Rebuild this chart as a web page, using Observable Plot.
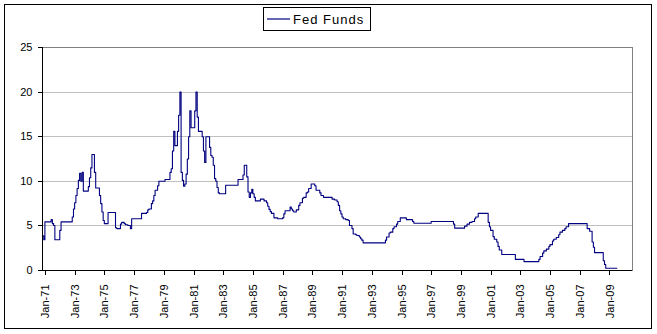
<!DOCTYPE html>
<html><head><meta charset="utf-8">
<script src="https://cdn.jsdelivr.net/npm/d3@7"></script>
<script src="https://cdn.jsdelivr.net/npm/@observablehq/plot@0.6"></script>
<style>
html,body{margin:0;padding:0;background:#fff;}
#chart{position:relative;width:657px;height:334px;}
</style>
</head><body><div id="chart"></div>
<script>
// Change points of the monthly Fed Funds series (value holds until the next entry)
const months = [
"1971-01","1971-02","1971-03","1971-08","1971-09","1971-10","1971-11","1972-03","1972-04",
"1973-01","1973-02","1973-03","1973-04","1973-05","1973-06","1973-07","1973-08","1973-09","1973-10",
"1974-02","1974-03","1974-04","1974-05","1974-07","1974-08","1974-11","1974-12",
"1975-01","1975-02","1975-03","1975-06","1975-12",
"1976-01","1976-04","1976-05","1976-07","1976-08","1976-10","1976-12",
"1977-01","1977-09",
"1978-01","1978-02","1978-03","1978-05","1978-06","1978-07","1978-08","1978-10","1978-11",
"1979-04","1979-08","1979-09","1979-10","1979-11","1979-12",
"1980-02","1980-03","1980-04","1980-05","1980-06","1980-07","1980-08","1980-09","1980-10","1980-11","1980-12",
"1981-01","1981-04","1981-05","1981-06","1981-07","1981-10","1981-11","1981-12",
"1982-01","1982-04","1982-05","1982-06","1982-07","1982-08","1982-09","1982-10","1982-11","1982-12",
"1983-05",
"1984-03","1984-07","1984-08","1984-10","1984-11","1984-12",
"1985-01","1985-02","1985-03","1985-04","1985-05","1985-09","1985-12",
"1986-02","1986-03","1986-04","1986-05","1986-06","1986-08","1986-11",
"1987-03","1987-04","1987-05","1987-09","1987-10","1987-11","1987-12",
"1988-02","1988-04","1988-05","1988-07","1988-08","1988-10","1988-11","1988-12",
"1989-02","1989-05","1989-06","1989-09","1989-10","1989-12",
"1990-07","1990-09","1990-11","1990-12",
"1991-01","1991-02","1991-03","1991-04","1991-06","1991-08","1991-09","1991-11","1991-12",
"1992-02","1992-03","1992-05","1992-06","1992-07","1992-08",
"1994-02","1994-03","1994-05","1994-06","1994-08","1994-09","1994-11","1994-12",
"1995-02","1995-07","1995-12",
"1996-01",
"1997-03",
"1998-09","1998-10",
"1999-06","1999-08","1999-10","1999-12",
"2000-02","2000-03","2000-05",
"2001-01","2001-02","2001-03","2001-05","2001-06","2001-08","2001-09","2001-10","2001-12",
"2002-11",
"2003-06",
"2004-06","2004-07","2004-09","2004-10","2004-12",
"2005-02","2005-03","2005-05","2005-06","2005-08","2005-10","2005-11",
"2006-01","2006-03","2006-04","2006-06",
"2007-09","2007-11",
"2008-01","2008-02","2008-03","2008-10","2008-11","2008-12",
"2009-09"
];
const rates = [
3.9,3.45,5.45,5.7,5.25,5.05,3.45,4.5,5.45,
6.0,6.9,7.6,8.4,9.2,10.1,10.9,10.0,11.0,8.9,
9.4,10.4,11.5,13.0,11.0,9.25,8.4,7.5,
6.55,5.6,5.25,6.5,4.8,
4.7,5.2,5.4,5.25,5.13,5.05,4.7,
5.8,6.4,
6.5,6.8,6.9,7.5,7.8,8.4,9.0,9.5,10.0,
10.2,11.0,11.4,13.4,15.6,14.0,
15.6,17.4,20.0,11.0,10.1,9.45,9.7,10.8,12.5,15.0,17.9,
16.0,17.9,20.0,17.2,15.6,15.0,13.4,12.1,
15.0,13.8,12.9,12.7,11.8,10.3,10.0,9.3,8.7,8.6,
9.55,
10.2,10.7,11.8,10.5,8.8,8.2,
8.7,9.1,8.6,8.2,7.8,8.0,7.8,
7.6,7.2,6.85,6.6,6.4,5.9,5.8,
5.9,6.35,6.7,7.1,6.9,6.7,6.55,
6.8,7.3,7.6,8.1,8.2,8.7,8.8,9.2,
9.7,9.5,9.0,8.7,8.4,8.2,
8.0,7.9,7.7,7.3,
6.7,6.35,6.0,5.8,5.7,5.6,5.05,4.7,4.1,
4.0,3.93,3.75,3.56,3.4,3.1,
3.4,3.75,4.2,4.3,4.7,4.9,5.2,5.5,
5.9,5.7,5.5,
5.3,
5.5,
5.2,4.75,
4.97,5.2,5.4,5.5,
5.8,6.0,6.4,
5.4,4.9,4.5,3.8,3.5,3.2,2.7,2.3,1.8,
1.25,
1.0,
1.25,1.57,1.95,2.2,2.4,
2.7,2.9,3.3,3.5,3.7,4.0,4.3,
4.5,4.7,4.9,5.25,
4.7,4.4,
3.2,2.6,2.0,1.1,0.67,0.25,
0.25
];
const seriesName = "Fed Funds";
const yTicks = [0, 5, 10, 15, 20, 25];
const tickYears = [1971,1973,1975,1977,1979,1981,1983,1985,1987,1989,1991,1993,1995,1997,1999,2001,2003,2005,2007,2009];
const xDomain = ["1971-01-01", "2010-09-20"];

const parseMonth = d3.utcParse("%Y-%m");
const data = months.map((m, i) => ({date: parseMonth(m), rate: rates[i]}));
const xTicks = tickYears.map(y => new Date(Date.UTC(y, 0, 1)));
const x0 = new Date(xDomain[0]), x1 = new Date(xDomain[1]);

const chart = Plot.plot({
  width: 657,
  height: 334,
  marginLeft: 42,
  marginRight: 25,
  marginTop: 47,
  marginBottom: 64,
  style: {fontFamily: "'Liberation Sans', Arial, sans-serif", fontSize: "11px", background: "#fff", color: "#000"},
  x: {type: "utc", domain: [x0, x1]},
  y: {domain: [0, 25]},
  marks: [
    Plot.gridY(yTicks.filter(d => d > 0), {stroke: "#c0c0c0", strokeOpacity: 1, shapeRendering: "crispEdges"}),
    Plot.frame({stroke: "#808080", shapeRendering: "crispEdges"}),
    Plot.lineY(data, {x: "date", y: "rate", curve: "step-after", stroke: "#000080", strokeWidth: 1.1}),
    Plot.ruleX([x0], {stroke: "#000", shapeRendering: "crispEdges"}),
    Plot.ruleY([0], {stroke: "#000", shapeRendering: "crispEdges"}),
    Plot.axisY({ticks: yTicks, tickSize: 4, tickPadding: 6, label: null, stroke: "#000", shapeRendering: "crispEdges"}),
    Plot.axisX({ticks: xTicks, tickFormat: d3.utcFormat("%b-%y"), tickRotate: -90, tickSize: 5, tickPadding: 9, dx: 3, label: null, stroke: "#000", shapeRendering: "crispEdges"})
  ]
});

const svg = d3.select(chart);
// outer chart border
svg.append("rect")
  .attr("x", 4.5).attr("y", 4.5).attr("width", 647).attr("height", 324)
  .attr("fill", "none").attr("stroke", "#000").attr("shape-rendering", "crispEdges");
// legend
const lg = svg.append("g");
lg.append("rect")
  .attr("x", 263.5).attr("y", 7.5).attr("width", 107).attr("height", 23)
  .attr("fill", "#fff").attr("stroke", "#000").attr("shape-rendering", "crispEdges");
lg.append("line")
  .attr("x1", 267).attr("x2", 290).attr("y1", 19).attr("y2", 19)
  .attr("stroke", "#000080").attr("stroke-width", 1.2);
lg.append("text")
  .attr("x", 293).attr("y", 23.5)
  .attr("text-anchor", "start")
  .style("font-size", "13px").style("letter-spacing", "1px")
  .attr("fill", "#000")
  .text(seriesName);

document.getElementById("chart").appendChild(chart);
</script>
</body></html>
